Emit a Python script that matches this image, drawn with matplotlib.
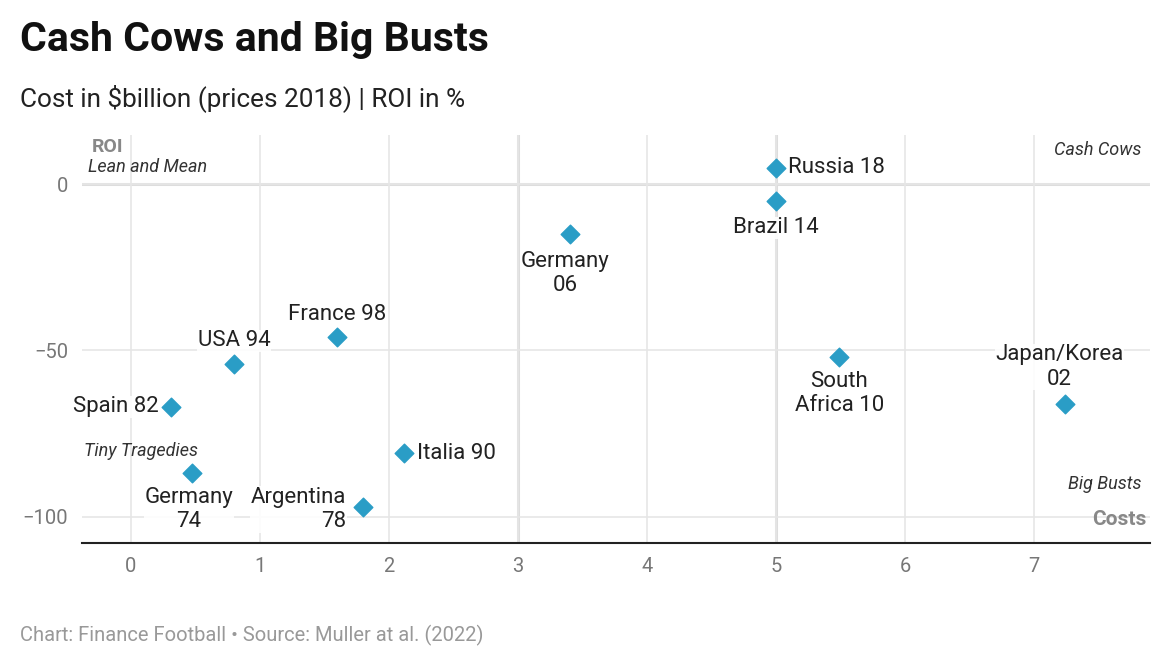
import matplotlib
matplotlib.use("Agg")
import matplotlib.pyplot as plt

plt.rcParams['font.family'] = ['Roboto', 'DejaVu Sans']

names = ["Russia 18", "Brazil 14", "Germany\n06", "France 98", "USA 94", "Spain 82",
         "Germany\n74", "Argentina\n78", "Italia 90", "South\nAfrica 10", "Japan/Korea\n02"]
costs = [5.0, 5.0, 3.4, 1.6, 0.8, 0.31, 0.47, 1.8, 2.12, 5.49, 7.24]
roi = [5, -5, -15, -46, -54, -67, -87, -97, -81, -52, -66]
# label offsets (points) and alignment
offs = [(9, 0, 'left', 'center'), (0, -12, 'center', 'top'), (-3, -12, 'center', 'top'),
        (0, 9, 'center', 'bottom'), (0, 9, 'center', 'bottom'), (-9, 0, 'right', 'center'),
        (-2, -10, 'center', 'top'), (-12, -2, 'right', 'center'), (9, 0, 'left', 'center'),
        (0, -10, 'center', 'top'), (-4, 10, 'center', 'bottom')]

fig = plt.figure(figsize=(11.7, 6.6), dpi=100)
ax = fig.add_axes([0.070, 0.177, 0.913, 0.618])
ax.set_xlim(-0.38, 7.9)
ax.set_ylim(-108, 14.7)
for s in ['top', 'right', 'left']:
    ax.spines[s].set_visible(False)
ax.spines['bottom'].set_color('#222222')
ax.spines['bottom'].set_linewidth(1.5)
ax.set_xticks(range(8))
ax.set_yticks([0, -50, -100])
ax.set_yticklabels(['0', '\u221250', '\u2212100'])
ax.tick_params(length=0, labelsize=14.5, labelcolor='#777777', pad=10)
ax.grid(True, color='#e6e6e6', lw=1.2)
ax.set_axisbelow(True)
ax.axhline(0, color='#dddddd', lw=2.2, zorder=0)
ax.axvline(3, color='#dddddd', lw=2.2, zorder=0)
ax.axvline(5, color='#dddddd', lw=2.2, zorder=0)

ax.scatter(costs, roi, marker='D', s=90, color='#2a9dc6', zorder=3)
for n, x, y, (dx, dy, ha, va) in zip(names, costs, roi, offs):
    ax.annotate(n, (x, y), xytext=(dx, dy), textcoords='offset points', ha=ha, va=va,
                fontsize=16, color='#222222', linespacing=1.2, zorder=4,
                bbox=dict(fc='white', ec='none', pad=0.5, alpha=0.9))

ax.text(-0.3, 14, 'ROI', fontsize=14, fontweight='bold', color='#888888', va='top')
ax.text(-0.33, 7.8, 'Lean and Mean', fontsize=13, style='italic', color='#333333', va='top')
ax.text(7.83, 13, 'Cash Cows', fontsize=13, style='italic', color='#333333', va='top', ha='right')
ax.text(-0.36, -83, 'Tiny Tragedies', fontsize=13, style='italic', color='#333333', va='bottom')
ax.text(7.83, -87.5, 'Big Busts', fontsize=13, style='italic', color='#333333', va='top', ha='right')
ax.text(7.87, -101, 'Costs', fontsize=15, fontweight='bold', color='#888888', va='center', ha='right')

fig.text(0.017, 0.94, 'Cash Cows and Big Busts', fontsize=29.5, fontweight='bold', color='#111111', va='center')
fig.text(0.017, 0.852, 'Cost in $billion (prices 2018) | ROI in %', fontsize=18.8, color='#222222', va='center')
fig.text(0.017, 0.037, 'Chart: Finance Football \u2022 Source: Muller at al. (2022)', fontsize=14.5, color='#999999', va='center')

fig.savefig('out.png', dpi=100, facecolor='white')
